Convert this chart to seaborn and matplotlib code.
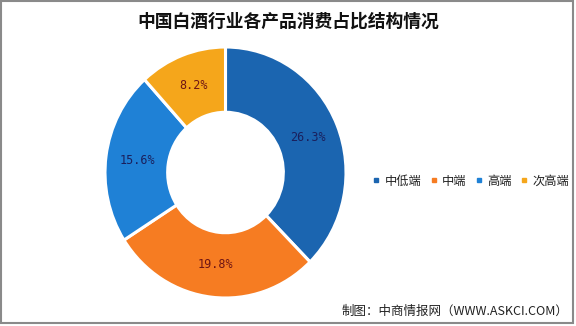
import matplotlib
matplotlib.use("Agg")
import matplotlib.pyplot as plt
import seaborn as sns
from matplotlib.lines import Line2D
from matplotlib.patches import Rectangle

title = "中国白酒行业各产品消费占比结构情况"
source = "制图：中商情报网（WWW.ASKCI.COM）"
categories = ["中低端", "中端", "高端", "次高端"]
values = [26.3, 19.8, 15.6, 8.2]
labels = ["26.3%", "19.8%", "15.6%", "8.2%"]
colors = ["#1b65b0", "#f67c22", "#1f81d6", "#f5a61b"]
label_colors = ["#1a1f5c", "#6e1414", "#1a1f5c", "#6e1414"]

sns.set_theme(style="white")
plt.rcParams['font.family'] = ['Noto Sans CJK SC', 'DejaVu Sans']

W, H = 576, 326
fig = plt.figure(figsize=(W / 100, H / 100), dpi=100)
fig.patch.set_facecolor('white')

ax = fig.add_axes([105 / W, 1 - 298 / H, 241 / W, 251 / H])
wedges, texts = ax.pie(values, startangle=90, counterclock=False, colors=colors,
                       labels=labels, labeldistance=0.74,
                       wedgeprops=dict(width=0.52, edgecolor='white', linewidth=2.2))
ax.set_aspect('auto')
ax.set_xlim(-1, 1)
ax.set_ylim(-1, 1)
for t, c in zip(texts, label_colors):
    t.set_ha('center')
    t.set_va('center')
    t.set_color(c)
    t.set_fontsize(8.5)
    t.set_family('DejaVu Sans Mono')

handles = [Line2D([0], [0], marker='s', linestyle='none', markersize=3.5,
                  markerfacecolor=c, markeredgecolor=c) for c in colors]
fig.legend(handles, categories, loc='center', bbox_to_anchor=(471 / W, 1 - 181 / H),
           ncol=4, frameon=False, fontsize=8.8, handlelength=0.6, handletextpad=0.4,
           columnspacing=0.7, borderpad=0, labelcolor='#222222')

fig.text(288.5 / W, 1 - 21.5 / H, title, ha='center', va='center', fontsize=12.8,
         fontweight='bold', color='#111111')
fig.text(568 / W, 1 - 311 / H, source, ha='right', va='center', fontsize=9,
         color='#222222')

fig.patches.append(Rectangle((0.8 / W, 1 - 323 / H), 572.5 / W, 322.5 / H,
                             transform=fig.transFigure, fill=False,
                             edgecolor='#8a8a8a', linewidth=1.5))

fig.savefig('out.png', dpi=100, facecolor='white')
